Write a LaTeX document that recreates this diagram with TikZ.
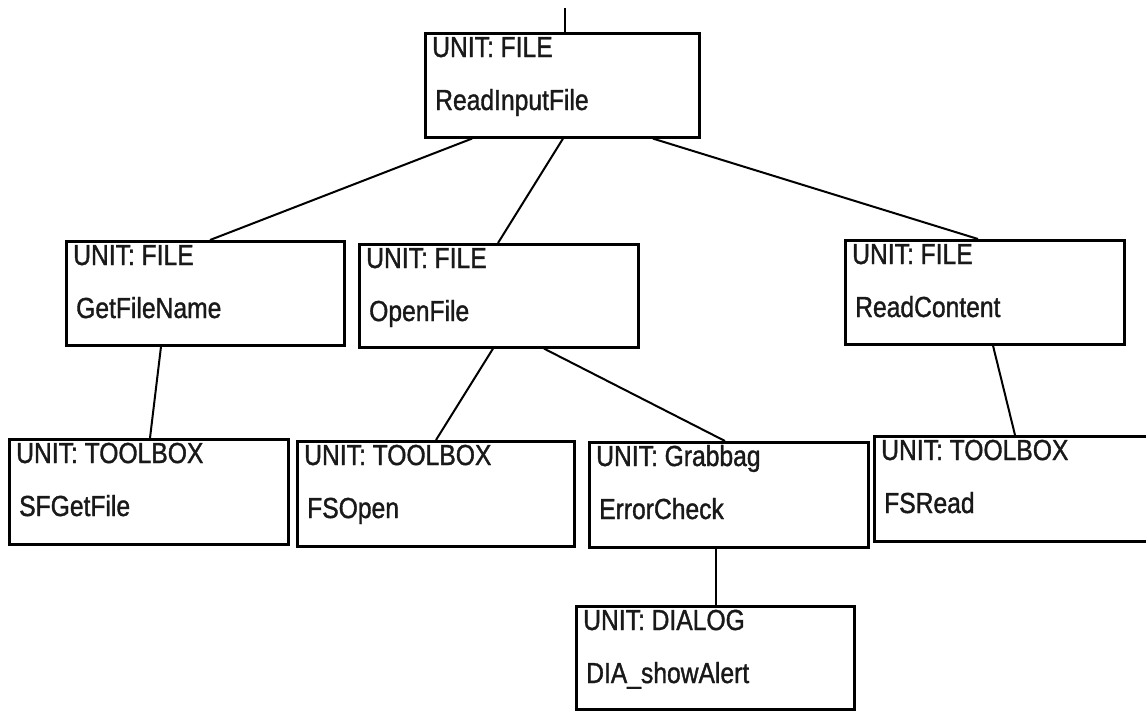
\documentclass[tikz,border=0pt]{standalone}
\usepackage{fontspec}
\setmainfont{Liberation Sans}[FakeStretch=0.85, FakeBold=1.2]
\usetikzlibrary{calc}
\tikzset{
  unitbox/.style={draw=black, line width=2.6pt, rectangle, inner sep=0pt, anchor=north west},
  boxtext/.style={anchor=base west, inner sep=0pt, font=\fontsize{29}{32}\selectfont, text=black!90},
  link/.style={draw=black, line width=2pt}
}
% \unit{name}{x}{y}{width}{height}{unit label}{routine}
\newcommand\unit[7]{%
  \node[unitbox, minimum width=#4, minimum height=#5] (#1) at (#2,#3) {};
  \node[boxtext] (#1-u) at ($(#1.north west)+(8,25)$) {#6};
  \node[boxtext] (#1-r) at ($(#1.north west)+(11,78)$) {#7};
}
\begin{document}
\begin{tikzpicture}[x=1pt, y=-1pt]
  \useasboundingbox (0,0) rectangle (1146,710);
  \fill[white] (0,0) rectangle (1146,710);

  \unit{rif}{424}{32}{274pt}{104pt}{UNIT: FILE}{ReadInputFile}
  \unit{gfn}{65}{240}{278pt}{104pt}{UNIT: FILE}{GetFileName}
  \unit{opf}{358}{243}{279pt}{103pt}{UNIT: FILE}{OpenFile}
  \unit{rdc}{844}{239}{279pt}{104pt}{UNIT: FILE}{ReadContent}
  \unit{sfg}{8}{438}{279pt}{105pt}{UNIT: TOOLBOX}{SFGetFile}
  \unit{fso}{296}{440}{277pt}{105pt}{UNIT: TOOLBOX}{FSOpen}
  \unit{erc}{588}{441}{279pt}{105pt}{UNIT: Grabbag}{ErrorCheck}
  \unit{fsr}{873}{435}{278pt}{105pt}{UNIT: TOOLBOX}{FSRead}
  \unit{dia}{575}{605}{278pt}{103pt}{UNIT: DIALOG}{DIA\_showAlert}

  % incoming call from above
  \coordinate (caller) at (565,8);
  \draw[link] (caller) -- ($(rif.north west)+(141,0)$);

  % call tree
  \draw[link] ($(rif.south west)+(48,0)$)  -- ($(gfn.north west)+(145,0)$);
  \draw[link] ($(rif.south west)+(139,0)$) -- ($(opf.north west)+(140,0)$);
  \draw[link] ($(rif.south west)+(229,0)$) -- ($(rdc.north west)+(134,0)$);
  \draw[link] ($(gfn.south west)+(96,0)$)  -- ($(sfg.north west)+(142,0)$);
  \draw[link] ($(opf.south west)+(135,0)$) -- ($(fso.north west)+(140,0)$);
  \draw[link] ($(opf.south west)+(186,0)$) -- ($(erc.north west)+(137,0)$);
  \draw[link] ($(erc.south west)+(128,0)$) -- ($(dia.north west)+(141,0)$);
  \draw[link] ($(rdc.south west)+(149,0)$) -- ($(fsr.north west)+(142,0)$);
\end{tikzpicture}
\end{document}
